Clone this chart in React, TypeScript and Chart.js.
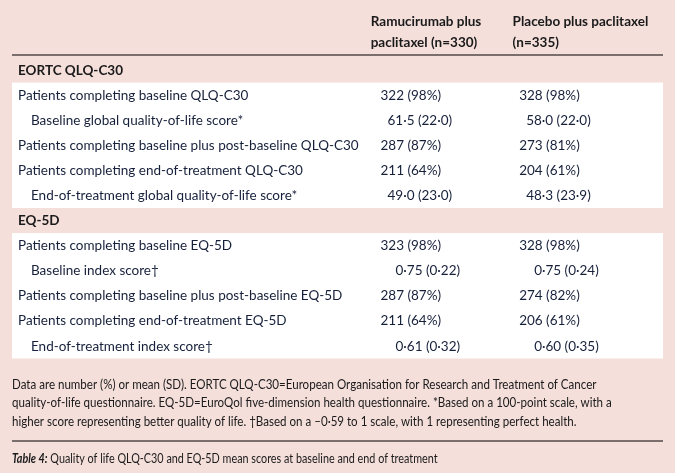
import React, { useEffect, useRef } from "react";
import { Chart, registerables } from "chart.js";

Chart.register(...registerables);

// ---------- data ----------
const headerCol1 = ["Ramucirumab plus", "paclitaxel (n=330)"];
const headerCol2 = ["Placebo plus paclitaxel", "(n=335)"];

const rowLabels = [
  "EORTC QLQ-C30",
  "Patients completing baseline QLQ-C30",
  "Baseline global quality-of-life score*",
  "Patients completing baseline plus post-baseline QLQ-C30",
  "Patients completing end-of-treatment QLQ-C30",
  "End-of-treatment global quality-of-life score*",
  "EQ-5D",
  "Patients completing baseline EQ-5D",
  "Baseline index score\u2020",
  "Patients completing baseline plus post-baseline EQ-5D",
  "Patients completing end-of-treatment EQ-5D",
  "End-of-treatment index score\u2020",
];

const rowKinds = [
  "section", "count", "score", "count", "count", "score",
  "section", "count", "index", "count", "count", "index",
];

const ramucirumabValues = [
  "", "322 (98%)", "61\u00b75 (22\u00b70)", "287 (87%)", "211 (64%)", "49\u00b70 (23\u00b70)",
  "", "323 (98%)", "0\u00b775 (0\u00b722)", "287 (87%)", "211 (64%)", "0\u00b761 (0\u00b732)",
];

const placeboValues = [
  "", "328 (98%)", "58\u00b70 (22\u00b70)", "273 (81%)", "204 (61%)", "48\u00b73 (23\u00b79)",
  "", "328 (98%)", "0\u00b775 (0\u00b724)", "274 (82%)", "206 (61%)", "0\u00b760 (0\u00b735)",
];

const footnoteLines = [
  "Data are number (%) or mean (SD). EORTC QLQ-C30=European Organisation for Research and Treatment of Cancer",
  "quality-of-life questionnaire. EQ-5D=EuroQol five-dimension health questionnaire. *Based on a 100-point scale, with a",
  "higher score representing better quality of life. \u2020Based on a \u20130\u00b759 to 1 scale, with 1 representing perfect health.",
];

const captionLead = "Table 4:";
const captionText = " Quality of life QLQ-C30 and EQ-5D mean scores at baseline and end of treatment";

// ---------- styles ----------
const BG = "#f4dfdb";
const TEXT = "#16203a";
const FONT = "Lato";

const tablePlugin = {
  id: "tablePlugin",
  beforeDraw(chart: any) {
    const { ctx, chartArea, scales } = chart;
    const y = scales.y;
    ctx.save();
    ctx.fillStyle = BG;
    ctx.fillRect(0, 0, chart.width, chart.height);
    const band = (chartArea.bottom - chartArea.top) / rowLabels.length;
    let i = 0;
    while (i < rowKinds.length) {
      if (rowKinds[i] === "section") { i++; continue; }
      let j = i;
      while (j + 1 < rowKinds.length && rowKinds[j + 1] !== "section") j++;
      const top = y.getPixelForValue(i) - band / 2;
      const bot = y.getPixelForValue(j) + band / 2;
      ctx.fillStyle = "#ffffff";
      ctx.fillRect(chartArea.left, top, chartArea.right - chartArea.left, bot - top);
      i = j + 1;
    }
    ctx.restore();
  },
  afterDraw(chart: any) {
    const { ctx, chartArea, scales } = chart;
    const y = scales.y;
    const x = scales.x;
    const left = chartArea.left;
    const right = chartArea.right;
    ctx.save();
    ctx.textBaseline = "alphabetic";
    ctx.textAlign = "left";

    // header
    ctx.fillStyle = "#1a1a1a";
    ctx.font = `bold 13.5px ${FONT}`;
    const c1 = x.getPixelForValue(55.1);
    const c2 = x.getPixelForValue(76.9);
    headerCol1.forEach((t, k) => ctx.fillText(t, c1, 26 + k * 20.5));
    headerCol2.forEach((t, k) => ctx.fillText(t, c2, 26 + k * 20.5));

    // top rule
    ctx.strokeStyle = "#000";
    ctx.lineWidth = 1.2;
    ctx.beginPath();
    ctx.moveTo(left, chartArea.top - 2.5);
    ctx.lineTo(right, chartArea.top - 2.5);
    ctx.stroke();

    // rows
    const v1 = x.getPixelForValue(56.6);
    const v2 = x.getPixelForValue(77.9);
    const offs: Record<string, number> = { count: 0, score: 7, index: 15 };
    rowLabels.forEach((label, idx) => {
      const cy = y.getPixelForValue(idx) + 4.6;
      const kind = rowKinds[idx];
      ctx.fillStyle = TEXT;
      if (kind === "section") {
        ctx.font = `bold 13.5px ${FONT}`;
        ctx.fillStyle = "#1a1a1a";
        ctx.fillText(label, left + 6, cy);
        return;
      }
      ctx.font = `13.5px ${FONT}`;
      const indent = kind === "count" ? 6 : 19;
      ctx.fillText(label, left + indent, cy);
      ctx.fillText(ramucirumabValues[idx], v1 + offs[kind], cy);
      ctx.fillText(placeboValues[idx], v2 + offs[kind], cy);
    });

    // footnotes (condensed)
    const fb = chartArea.bottom;
    ctx.fillStyle = "#1a1a1a";
    ctx.font = `12.5px ${FONT}`;
    footnoteLines.forEach((t, k) => {
      ctx.save();
      ctx.translate(left, fb + 30 + k * 18.7);
      ctx.scale(0.925, 1);
      ctx.fillText(t, 0, 0);
      ctx.restore();
    });

    // bottom rule
    ctx.beginPath();
    ctx.moveTo(left, fb + 82.5);
    ctx.lineTo(right, fb + 82.5);
    ctx.stroke();

    // caption
    ctx.save();
    ctx.translate(left, fb + 104);
    ctx.scale(0.8, 1);
    ctx.font = `italic bold 13.5px ${FONT}`;
    ctx.fillText(captionLead, 0, 0);
    const w = ctx.measureText(captionLead).width;
    ctx.font = `13.5px ${FONT}`;
    ctx.fillText(captionText, w, 0);
    ctx.restore();

    ctx.restore();
  },
};

export default function App() {
  const ref = useRef<HTMLCanvasElement | null>(null);
  useEffect(() => {
    if (!ref.current) return;
    const chart = new Chart(ref.current, {
      type: "bar",
      data: {
        labels: rowLabels,
        datasets: [
          { label: "Ramucirumab plus paclitaxel", data: rowLabels.map(() => null), backgroundColor: "transparent" },
          { label: "Placebo plus paclitaxel", data: rowLabels.map(() => null), backgroundColor: "transparent" },
        ],
      },
      options: {
        indexAxis: "y",
        responsive: false,
        animation: false,
        events: [],
        layout: { padding: { top: 57.5, bottom: 114.5, left: 12, right: 12 } },
        plugins: { legend: { display: false }, tooltip: { enabled: false }, title: { display: false } },
        scales: {
          x: { type: "linear", min: 0, max: 100, display: false },
          y: { type: "category", offset: true, display: false },
        },
      },
      plugins: [tablePlugin],
    } as any);
    return () => chart.destroy();
  }, []);
  return (
    <div style={{ position: "absolute", left: 0, top: 0, width: 675, height: 473, background: BG }}>
      <canvas ref={ref} width={675} height={473} style={{ display: "block" }} />
    </div>
  );
}
